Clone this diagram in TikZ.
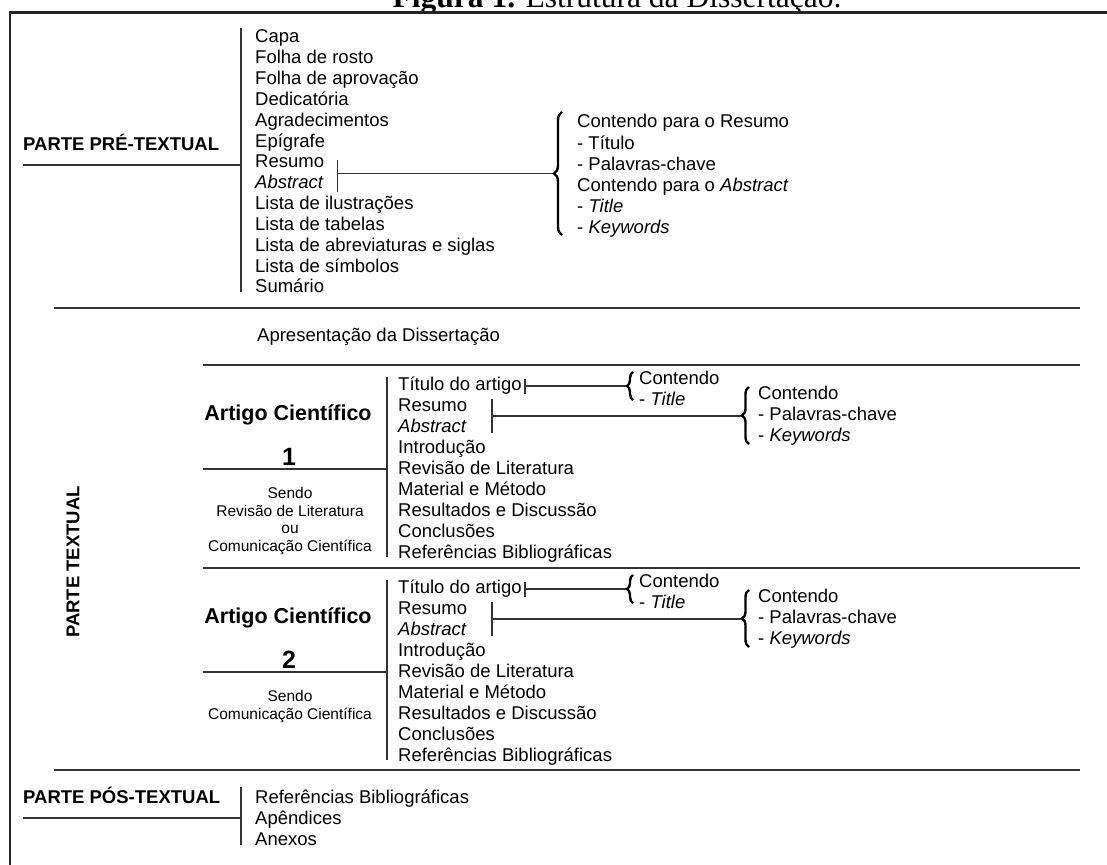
\documentclass[tikz,border=0pt]{standalone}
\usepackage{fontspec}
\setmainfont{Liberation Sans}
\newfontfamily\serifa{Liberation Serif}
\usetikzlibrary{decorations.pathreplacing}

\begin{document}
\begin{tikzpicture}[x=1pt, y=-1pt,
    linha/.style={line width=1.6pt, draw=black!80},
    moldura/.style={line width=2.6pt, draw=black!85},
    chave/.style={decorate, decoration={brace, amplitude=#1}, line width=2.4pt},
    item/.style={anchor=base west, inner sep=0pt, font=\fontsize{18.5}{21}\selectfont},
    parte/.style={inner sep=0pt, font=\bfseries\fontsize{18.5}{21}\selectfont},
    artigo/.style={anchor=base, inner sep=0pt, font=\bfseries\fontsize{21.5}{25}\selectfont},
    sendo/.style={anchor=base, inner sep=0pt, font=\fontsize{15.5}{17}\selectfont}]

    % area visivel
    \useasboundingbox (0,0) rectangle (1107,864);
    \clip (0,0) rectangle (1107,864);

    % titulo e moldura
    \node[anchor=base, inner sep=0pt, font=\serifa\fontsize{31.5}{36}\selectfont] (titulo) at (617,8)
        {\textbf{Figura 1.} Estrutura da Dissertação.};
    \draw[moldura] (10,12.5) rectangle (1130,890);

    % parte pre-textual
    \node[parte, anchor=base west] (pre) at (23,150) {PARTE PRÉ-TEXTUAL};
    \coordinate (preT) at (241,28);
    \coordinate (preF) at (241,292);
    \coordinate (preA) at (23,165);
    \draw[linha] (preT) -- (preF);
    \draw[linha] (preA) -- (preA -| preT);
    \foreach \txt [count=\i from 0] in {Capa, Folha de rosto, Folha de aprovação, Dedicatória,
        Agradecimentos, Epígrafe, Resumo, \textit{Abstract}, Lista de ilustrações, Lista de tabelas,
        Lista de abreviaturas e siglas, Lista de símbolos, Sumário}
        \node[item] (pre\i) at (255,43+20.83*\i) {\txt};

    % chave do resumo
    \coordinate (barT) at (337.5,160);
    \coordinate (barF) at (337.5,192);
    \coordinate (ponta) at (554,173.5);
    \draw[linha] (barT) -- (barF);
    \draw[linha] (barT |- ponta) -- (ponta);
    \draw[chave=8pt] (562,235) -- (562,112);
    \foreach \txt [count=\i from 0] in {Contendo para o Resumo, - Título, - Palavras-chave,
        Contendo para o \textit{Abstract}, - \textit{Title}, - \textit{Keywords}}
        \node[item] (cr\i) at (577,128+21*\i) {\txt};

    % parte textual
    \draw[linha] (54,308) -- (1080,308);
    \node[parte, rotate=90] (textual) at (73,562) {PARTE TEXTUAL};
    \node[item] (apres) at (257,341) {Apresentação da Dissertação};
    \draw[linha] (203,365) -- (1080,365);
    \draw[linha] (203,568) -- (1080,568);
    \draw[linha] (54,770) -- (1080,770);

    % artigos 1 e 2
    \foreach \n/\o in {1/0, 2/203} {
        \node[artigo] (art\n) at (288,420+\o) {Artigo Científico};
        \node[artigo, font=\bfseries\fontsize{25}{30}\selectfont] (num\n) at (289,465+\o) {\n};
        \coordinate (vT\n) at (387,377+\o);
        \coordinate (vF\n) at (387,557+\o);
        \coordinate (lin\n) at (203,469+\o);
        \draw[linha] (vT\n) -- (vF\n);
        \draw[linha] (lin\n) -- (lin\n -| vT\n);
        \foreach \txt [count=\i from 0] in {Título do artigo, Resumo, \textit{Abstract}, Introdução,
            Revisão de Literatura, Material e Método, Resultados e Discussão, Conclusões,
            Referências Bibliográficas}
            \node[item] (it\n-\i) at (398,390+21*\i+\o) {\txt};
        % titulo -> chave pequena
        \coordinate (tq\n) at (525,379+\o);
        \coordinate (cp\n) at (627,386+\o);
        \draw[linha] (tq\n) -- ++(0,15);
        \draw[linha] (tq\n |- cp\n) -- (cp\n);
        \draw[chave=6pt] (633,400+\o) -- (633,372+\o);
        \node[item] (ct\n) at (639,384+\o) {Contendo};
        \node[item] (tt\n) at (639,405+\o) {- \textit{Title}};
        % resumo/abstract -> chave
        \coordinate (rq\n) at (492,399+\o);
        \coordinate (cg\n) at (742,416+\o);
        \draw[linha] (rq\n) -- ++(0,34);
        \draw[linha] (rq\n |- cg\n) -- (cg\n);
        \draw[chave=7pt] (749,444+\o) -- (749,387+\o);
        \node[item] (cc\n) at (758,399+\o) {Contendo};
        \node[item] (cv\n) at (758,420+\o) {- Palavras-chave};
        \node[item] (ck\n) at (758,441+\o) {- \textit{Keywords}};
    }
    \foreach \txt [count=\i from 0] in {Sendo, Revisão de Literatura, ou, Comunicação Científica}
        \node[sendo] (sa\i) at (290,498.5+17.5*\i) {\txt};
    \foreach \txt [count=\i from 0] in {Sendo, Comunicação Científica}
        \node[sendo] (sb\i) at (290,701.5+17.5*\i) {\txt};

    % parte pos-textual
    \node[parte, anchor=base west] (pos) at (23,803) {PARTE PÓS-TEXTUAL};
    \coordinate (posT) at (241,787);
    \coordinate (posF) at (241,845);
    \coordinate (posA) at (23,818);
    \draw[linha] (posT) -- (posF);
    \draw[linha] (posA) -- (posA -| posT);
    \foreach \txt [count=\i from 0] in {Referências Bibliográficas, Apêndices, Anexos}
        \node[item] (pos\i) at (255,803+21*\i) {\txt};
\end{tikzpicture}
\end{document}
